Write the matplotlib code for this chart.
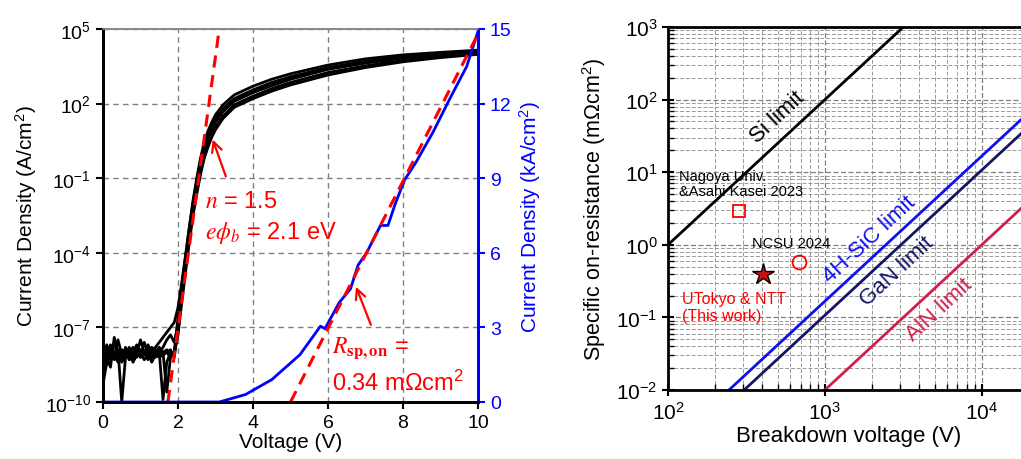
import numpy as np
import matplotlib.pyplot as plt

plt.rcParams['font.family'] = ['Liberation Sans', 'DejaVu Sans']
plt.rcParams['mathtext.fontset'] = 'custom'
plt.rcParams['mathtext.rm'] = 'Liberation Sans'
plt.rcParams['mathtext.it'] = 'Liberation Sans:italic'
plt.rcParams['mathtext.bf'] = 'Liberation Sans:bold'

# ---- left panel data: J-V curves (log10 of A/cm2) ----
v_grid = [0.0, 0.1, 0.2, 0.3, 0.4, 0.5, 0.6, 0.7, 0.8, 0.9,
          1.0, 1.1, 1.2, 1.3, 1.4, 1.5, 1.6, 1.7, 1.8, 1.9,
          2.0, 2.1, 2.2, 2.3, 2.4, 2.5, 2.6, 2.7, 2.8, 2.9,
          3.0, 3.2, 3.5, 4.0, 4.5, 5.0, 6.0, 7.0, 8.0, 9.0, 10.0]

logj_1 = [-8.3, -7.9, -8.1, -7.6, -8.2, -8.0, -7.9, -8.3, -8.0, -7.7,
          -8.1, -8.0, -7.9, -8.2, -8.0, -7.8, -8.1, -8.0, -8.2, -8.0,
          -7.0, -5.7, -4.5, -3.3, -2.2, -1.3, -0.5, 0.2, 0.6, 1.0,
          1.3, 1.7, 2.1, 2.45, 2.75, 3.0, 3.4, 3.65, 3.85, 3.98, 4.08]
logj_2 = [-9.0, -8.2, -8.6, -7.4, -8.0, -8.4, -8.1, -7.8, -8.3, -8.0,
          -8.2, -7.6, -8.0, -8.4, -8.1, -7.9, -8.0, -9.6, -8.2, -8.0,
          -6.6, -5.3, -4.2, -3.0, -1.9, -1.0, -0.2, 0.45, 0.9, 1.25,
          1.55, 1.95, 2.35, 2.7, 2.98, 3.2, 3.55, 3.8, 3.96, 4.06, 4.15]
logj_3 = [-7.8, -8.5, -8.0, -8.3, -7.9, -10.0, -8.2, -8.0, -8.4, -8.1,
          -7.9, -8.0, -8.3, -7.8, -8.1, -8.2, -8.0, -7.9, -8.1, -8.0,
          -7.3, -6.0, -4.8, -3.6, -2.5, -1.65, -0.85, -0.2, 0.25, 0.65,
          0.95, 1.4, 1.85, 2.2, 2.5, 2.75, 3.15, 3.45, 3.68, 3.85, 3.98]
logj_4 = [-8.1, -7.7, -8.3, -8.0, -8.1, -7.9, -8.2, -8.0, -7.8, -8.1,
          -7.5, -8.0, -8.2, -7.9, -7.8, -7.6, -7.4, -7.2, -7.0, -6.8,
          -6.2, -5.2, -4.1, -3.0, -2.0, -1.1, -0.3, 0.3, 0.75, 1.1,
          1.4, 1.8, 2.2, 2.55, 2.85, 3.08, 3.45, 3.7, 3.9, 4.02, 4.1]
logj_5 = [-8.6, -8.0, -7.7, -8.2, -7.5, -8.1, -7.9, -8.3, -8.0, -7.9,
          -8.2, -8.1, -7.7, -8.0, -8.2, -8.0, -9.9, -8.4, -8.0, -8.1,
          -6.9, -5.5, -4.3, -3.2, -2.1, -1.2, -0.4, 0.25, 0.7, 1.05,
          1.35, 1.75, 2.15, 2.5, 2.8, 3.05, 3.42, 3.68, 3.87, 4.0, 4.1]
logj_6 = [-9.3, -8.4, -7.9, -8.2, -8.0, -8.3, -7.8, -8.1, -8.0, -8.2,
          -7.9, -8.0, -8.1, -8.3, -7.9, -8.0, -7.8, -7.5, -7.3, -7.6,
          -6.9, -5.7, -4.5, -3.4, -2.4, -1.5, -0.75, -0.1, 0.35, 0.75,
          1.05, 1.5, 1.95, 2.3, 2.6, 2.85, 3.25, 3.52, 3.74, 3.9, 4.01]
logj_7 = [-8.0, -8.3, -7.8, -8.1, -8.4, -8.0, -8.1, -7.9, -8.2, -8.1,
          -8.0, -8.3, -8.1, -7.9, -8.0, -8.2, -8.1, -8.0, -7.9, -8.2,
          -7.1, -5.8, -4.6, -3.4, -2.3, -1.35, -0.55, 0.15, 0.55, 0.95,
          1.25, 1.68, 2.1, 2.45, 2.72, 2.98, 3.38, 3.63, 3.83, 3.97, 4.07]
logj_curves = [logj_1, logj_2, logj_3, logj_4, logj_5, logj_6, logj_7]

# linear J-V (kA/cm2)
v_lin = [0.0, 3.1, 3.8, 4.5, 5.25, 5.8, 5.92, 6.3, 6.6, 6.8, 7.03,
         7.4, 7.6, 7.8, 8.05, 8.35, 8.8, 9.25, 9.7, 10.0]
j_lin = [0.0, 0.0, 0.3, 0.9, 1.9, 3.05, 2.95, 4.0, 4.55, 5.5, 6.0,
         7.1, 7.1, 8.0, 8.95, 9.65, 10.85, 12.2, 13.5, 14.9]

# fits
fit_log_v = [1.73, 3.1]
fit_log_j = [1e-10, 1e5]
fit_lin_v = [5.0, 10.0]
fit_lin_j = [0.0, 14.8]

# ---- right panel data ----
vbr = [100, 20000]
si_coef = 1e-4
sic_coef = 1.67e-7
gan_coef = 1.07e-7
aln_coef = 1.0e-8

nagoya = (283, 2.9)
ncsu = (680, 0.58)
this_work = (403, 0.40)

fig = plt.figure(figsize=(10.21, 4.6), dpi=100)

# ================= left panel =================
ax = fig.add_axes([103/1021, 1-403/460, 375/1021, 373/460])
ax2 = ax.twinx()

for lj in logj_curves:
    ax.plot(v_grid, 10.0 ** np.array(lj), color='black', lw=2.0)
ax.plot(fit_log_v, fit_log_j, color='red', ls='--', lw=2.2, dashes=(4, 2.5))

ax.set_yscale('log')
ax.set_xlim(0, 10)
ax.set_ylim(1e-10, 1e5)
ax.set_yticks([1e-10, 1e-7, 1e-4, 1e-1, 1e2, 1e5])
ax.yaxis.set_minor_locator(plt.NullLocator())
ax.set_xticks([0, 2, 4, 6, 8, 10])
ax.grid(True, ls='--', color='gray', lw=1.0, dashes=(4, 3))
ax.tick_params(labelsize=14, width=1.5, length=5)
ax.set_xlabel('Voltage (V)', fontsize=15, labelpad=1)
ax.set_ylabel('Current Density (A/cm$^2$)', fontsize=15, labelpad=4)
for s in ax.spines.values():
    s.set_linewidth(2)

ax2.plot(v_lin, j_lin, color='blue', lw=2)
ax2.plot(fit_lin_v, fit_lin_j, color='red', ls='--', lw=2.2, dashes=(4, 2.5))
ax2.set_ylim(0, 15)
ax2.set_yticks([0, 3, 6, 9, 12, 15])
ax2.tick_params(labelsize=14, colors='blue', width=1.5, length=5)
ax2.spines['right'].set_color('blue')
ax2.spines['right'].set_linewidth(2)
ax2.spines['left'].set_linewidth(2)
ax2.spines['top'].set_linewidth(1.2)
ax2.spines['top'].set_color('#888888')
ax.spines['top'].set_linewidth(1.2)
ax.spines['top'].set_color('#888888')
ax2.spines['bottom'].set_linewidth(2)
ax2.set_ylabel('Current Density (kA/cm$^2$)', fontsize=15, color='blue', labelpad=4)

ax.annotate('', xy=(2.9, 10**0.66), xytext=(3.3, 10**-1.03),
            arrowprops=dict(arrowstyle='->', color='red', lw=1.6, mutation_scale=18))
ax.text(2.72, 10**-1.92, r'$n$ = 1.5', color='red', fontsize=17,
        ha='left', va='center', math_fontfamily='stix')
ax.text(2.72, 10**-3.15, r'$e\phi_b$ = 2.1 eV', color='red', fontsize=17,
        ha='left', va='center', math_fontfamily='stix')

ax2.annotate('', xy=(6.72, 4.74), xytext=(7.17, 3.0),
             arrowprops=dict(arrowstyle='->', color='red', lw=1.6, mutation_scale=18))
ax2.text(6.1, 2.2, r'$R_{\mathbf{sp,on}}$ =', color='red', fontsize=17,
         ha='left', va='center', math_fontfamily='stix')
ax2.text(6.1, 0.8, r'0.34 m$\Omega$cm$^2$', color='red', fontsize=17,
         ha='left', va='center')

# ================= right panel =================
bx = fig.add_axes([668/1021, 1-391/460, 361/1021, 363/460])
vv = np.array(vbr, dtype=float)
vv = np.geomspace(vv[0], vv[1], 50)
bx.plot(vv, si_coef * vv**2, color='black', lw=2)
bx.plot(vv, sic_coef * vv**2, color='#1010ee', lw=2)
bx.plot(vv, gan_coef * vv**2, color='#141464', lw=2)
bx.plot(vv, aln_coef * vv**2, color='#d0204a', lw=2)

bx.plot(*nagoya, marker='s', ms=9, mfc='none', mec='red', mew=1.3, ls='none')
bx.plot(*ncsu, marker='o', ms=10, mfc='none', mec='red', mew=1.3, ls='none')
bx.plot(*this_work, marker='*', ms=16, mfc='#d01010', mec='black', mew=1.0, ls='none')

bx.set_xscale('log')
bx.set_yscale('log')
bx.set_xlim(1e2, 2e4)
bx.set_ylim(1e-2, 1e3)
bx.grid(True, which='major', ls='--', color='gray', lw=0.9, dashes=(4, 2))
bx.grid(True, which='minor', ls='--', color='gray', lw=0.7, dashes=(4, 2), alpha=0.8)
bx.tick_params(which='major', labelsize=15, direction='inout', length=8, width=1.5)
bx.tick_params(which='minor', direction='in', length=4, width=1.0)
bx.tick_params(axis='y', which='minor', labelleft=False)
for s in bx.spines.values():
    s.set_linewidth(2)
bx.set_xlabel('Breakdown voltage (V)', fontsize=16, labelpad=2)
bx.set_ylabel('Specific on-resistance (m$\\Omega$cm$^2$)', fontsize=15.5, labelpad=6)

ang = 42.8
bx.text(500, 59, 'Si limit', rotation=ang, fontsize=16, color='black',
        ha='center', va='center', rotation_mode='anchor')
bx.text(1936, 1.2, '4H-SiC limit', rotation=ang, fontsize=16, color='#1010ee',
        ha='center', va='center', rotation_mode='anchor')
bx.text(2876, 0.44, 'GaN limit', rotation=ang, fontsize=16, color='#141464',
        ha='center', va='center', rotation_mode='anchor')
bx.text(5370, 0.13, 'AlN limit', rotation=ang, fontsize=16, color='#d0204a',
        ha='center', va='center', rotation_mode='anchor')

bx.text(117, 7.0, 'Nagoya Univ.\n&Asahi Kasei 2023', fontsize=10.5, color='black',
        ha='left', va='center', linespacing=1.1)
bx.text(345, 1.05, 'NCSU 2024', fontsize=10.5, color='black', ha='left', va='center')
bx.text(122, 0.139, 'UTokyo & NTT\n(This work)', fontsize=11.5, color='red',
        ha='left', va='center', linespacing=1.1)

fig.savefig('out.png', dpi=100)
